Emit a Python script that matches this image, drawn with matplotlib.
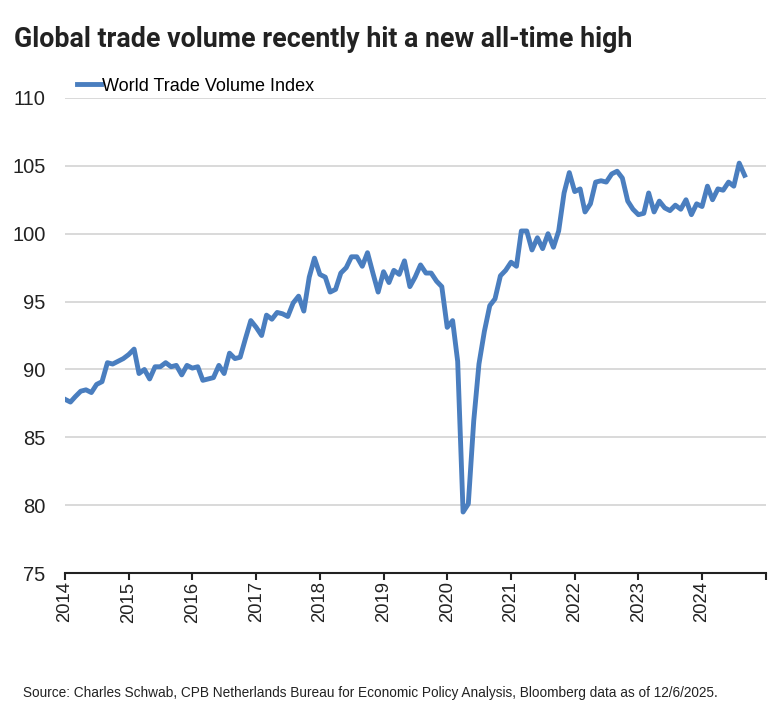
import matplotlib
matplotlib.use("Agg")
import matplotlib.pyplot as plt
import pandas as pd

# monthly World Trade Volume Index, Jan 2014 - Sep 2024
v2014 = [87.8, 87.6, 88.0, 88.4, 88.5, 88.3, 88.9, 89.1, 90.5, 90.4, 90.6, 90.8]
v2015 = [91.1, 91.5, 89.7, 90.0, 89.3, 90.2, 90.2, 90.5, 90.2, 90.3, 89.6, 90.3]
v2016 = [90.1, 90.2, 89.2, 89.3, 89.4, 90.3, 89.7, 91.2, 90.8, 90.9, 92.3, 93.6]
v2017 = [93.1, 92.5, 94.0, 93.7, 94.2, 94.1, 93.9, 94.9, 95.4, 94.3, 96.8, 98.2]
v2018 = [97.0, 96.8, 95.7, 95.9, 97.1, 97.5, 98.3, 98.3, 97.6, 98.6, 97.1, 95.7]
v2019 = [97.2, 96.4, 97.3, 97.0, 98.0, 96.1, 96.8, 97.7, 97.1, 97.1, 96.5, 96.1]
v2020 = [93.1, 93.6, 90.6, 79.5, 80.1, 86.2, 90.4, 92.8, 94.7, 95.2, 96.9, 97.3]
v2021 = [97.9, 97.6, 100.2, 100.2, 98.8, 99.7, 98.9, 100.0, 99.0, 100.2, 103.0, 104.5]
v2022 = [103.1, 103.3, 101.6, 102.2, 103.8, 103.9, 103.8, 104.4, 104.6, 104.1, 102.4, 101.8]
v2023 = [101.4, 101.5, 103.0, 101.6, 102.4, 101.9, 101.7, 102.1, 101.8, 102.5, 101.4, 102.2]
v2024 = [102.0, 103.5, 102.5, 103.3, 103.2, 103.8, 103.5, 105.2, 104.3]

values = v2014 + v2015 + v2016 + v2017 + v2018 + v2019 + v2020 + v2021 + v2022 + v2023 + v2024
months = pd.date_range("2014-01-01", periods=len(values), freq="MS")
years = list(range(2014, 2026))
yticks = [75, 80, 85, 90, 95, 100, 105, 110]

BLUE = "#4a7ebf"
FONT = ["Liberation Sans", "DejaVu Sans"]

fig = plt.figure(figsize=(7.77, 7.2), dpi=100)
ax = fig.add_axes([0.0837, 0.204, 0.902, 0.660])

ax.plot(months, values, color=BLUE, lw=3.5, solid_joinstyle="round",
        label="World Trade Volume Index", zorder=3)

ax.set_ylim(75, 110)
ax.set_yticks(yticks)
ax.set_xlim(pd.Timestamp("2014-01-01"), pd.Timestamp("2025-01-01"))
ax.set_xticks([pd.Timestamp(f"{y}-01-01") for y in years])
ax.set_xticklabels([str(y) if y < 2025 else "" for y in years],
                   rotation=90, fontsize=13.3, family=FONT, color="#222222")

for t in ax.get_yticklabels():
    t.set_family(FONT)
ax.tick_params(axis="y", length=0, pad=14, labelsize=14.5, labelcolor="#222222")
ax.tick_params(axis="x", length=5, width=1.5, pad=1, color="#222222", direction="out")

# light horizontal gridlines (none at the 75 baseline)
for y in yticks[1:]:
    ax.axhline(y, color="#d9d9d9", lw=1.4, zorder=1)

for s in ["top", "right", "left"]:
    ax.spines[s].set_visible(False)
ax.spines["bottom"].set_linewidth(1.5)
ax.spines["bottom"].set_color("#222222")

fig.legend(loc="upper left", bbox_to_anchor=(0.090, 0.902), frameon=False,
           handlelength=1.3, handletextpad=0.1, borderaxespad=0,
           prop={"family": FONT, "size": 13})

fig.text(0.018, 0.945, "Global trade volume recently hit a new all-time high",
         fontsize=19.3, fontweight="bold", color="#222222",
         family=["Liberation Sans Narrow", "Roboto", "DejaVu Sans"], va="center")
fig.text(0.03, 0.037,
         "Source: Charles Schwab, CPB Netherlands Bureau for Economic Policy Analysis, "
         "Bloomberg data as of 12/6/2025.",
         fontsize=9.85, color="#222222", family=FONT, va="center")

fig.savefig("out.png", dpi=100)
